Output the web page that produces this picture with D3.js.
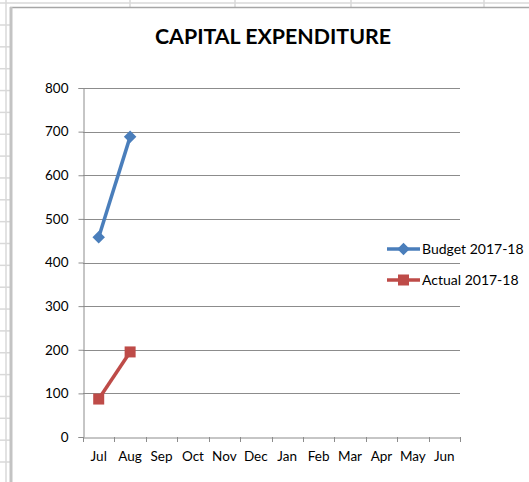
<!DOCTYPE html>
<html>
<head>
<meta charset="utf-8">
<script src="https://cdn.jsdelivr.net/npm/d3@7"></script>
<style>
  body { margin: 0; background: #fff; }
  svg { display: block; font-family: Lato, "Open Sans", sans-serif; }
</style>
</head>
<body>
<svg width="529" height="482"></svg>
<script>
// данные графика
const months = ["Jul", "Aug", "Sep", "Oct", "Nov", "Dec", "Jan", "Feb", "Mar", "Apr", "May", "Jun"];
const budget = [458, 688];
const actual = [87, 195];
const yTicks = [0, 100, 200, 300, 400, 500, 600, 700, 800];
const seriesNames = ["Budget 2017-18", "Actual 2017-18"];

const svg = d3.select("svg");
const W = 529, H = 482;

// фон таблицы Excel
const sheet = svg.append("g").attr("stroke", "#d9d9d9").attr("stroke-width", 1.5);
sheet.append("line").attr("x1", 0).attr("x2", W).attr("y1", 3).attr("y2", 3);
sheet.append("line").attr("x1", 6).attr("x2", 6).attr("y1", 0).attr("y2", H);
d3.range(25, H, 21.85).forEach(y => {
    sheet.append("line").attr("x1", 0).attr("x2", 10).attr("y1", y).attr("y2", y);
});
[130, 235, 351, 484].forEach(x => {
    sheet.append("line").attr("x1", x).attr("x2", x).attr("y1", 0).attr("y2", 7);
});

// область диаграммы
svg.append("rect")
    .attr("x", 11).attr("y", 7).attr("width", W).attr("height", H)
    .attr("fill", "#fff");
svg.append("line").attr("x1", 10).attr("x2", W).attr("y1", 7.5).attr("y2", 7.5)
    .attr("stroke", "#a6a6a6").attr("stroke-width", 1.5);
svg.append("line").attr("x1", 11).attr("x2", 11).attr("y1", 7).attr("y2", H)
    .attr("stroke", "#c3c3c3").attr("stroke-width", 3);

// заголовок
svg.append("text")
    .attr("x", 273).attr("y", 44)
    .attr("text-anchor", "middle")
    .attr("font-size", 21).attr("font-weight", "bold")
    .attr("textLength", 236).attr("lengthAdjust", "spacingAndGlyphs")
    .attr("fill", "#000")
    .text("CAPITAL EXPENDITURE");

const area = { left: 83, right: 460, top: 88, bottom: 437 };

const scX = d3.scaleBand().domain(months).range([area.left, area.right]);
const scY = d3.scaleLinear().domain([0, 800]).range([area.bottom, area.top]);

// сетка
svg.append("g")
    .selectAll("line")
    .data(yTicks.filter(d => d > 0))
    .enter().append("line")
    .attr("x1", area.left).attr("x2", area.right)
    .attr("y1", d => Math.round(scY(d)) + 0.5).attr("y2", d => Math.round(scY(d)) + 0.5)
    .attr("stroke", "#8c8c8c");

// оси
const axisY = svg.append("g")
    .attr("transform", `translate(${area.left + 0.5},0)`)
    .call(d3.axisLeft(scY).tickValues(yTicks).tickSize(5).tickPadding(10));
const axisX = svg.append("g")
    .attr("transform", `translate(0,${area.bottom + 0.5})`)
    .call(d3.axisBottom(scX).tickSize(0).tickPadding(14));

[axisY, axisX].forEach(g => {
    g.select(".domain").attr("stroke", "#8c8c8c");
    g.selectAll("line").attr("stroke", "#8c8c8c");
    g.selectAll("text").attr("font-size", 13.5).attr("fill", "#000")
        .attr("font-family", "Lato, sans-serif");
});

// деления оси X по границам категорий
svg.append("g")
    .selectAll("line")
    .data(months.concat(["end"]))
    .enter().append("line")
    .attr("x1", (d, i) => Math.round(area.left + i * scX.step()) + 0.5)
    .attr("x2", (d, i) => Math.round(area.left + i * scX.step()) + 0.5)
    .attr("y1", area.bottom).attr("y2", area.bottom + 5)
    .attr("stroke", "#8c8c8c");

const colors = ["#4a7ebb", "#be4b48"];
const allSeries = [budget, actual];
const cx = (d, i) => scX(months[i]) + scX.bandwidth() / 2;

const line = d3.line().x((d, i) => cx(d, i)).y(d => scY(d));

allSeries.forEach((vals, s) => {
    svg.append("path")
        .datum(vals)
        .attr("d", line)
        .attr("fill", "none")
        .attr("stroke", colors[s])
        .attr("stroke-width", 3.5);
});

// маркеры
function drawMarker(g, s, x, y) {
    if (s === 0) {
        g.append("path")
            .attr("d", d3.symbol(d3.symbolDiamond2, 100)())
            .attr("transform", `translate(${x},${y})`)
            .attr("fill", colors[s]);
    } else {
        g.append("rect")
            .attr("x", x - 5.5).attr("y", y - 5.5)
            .attr("width", 11).attr("height", 11)
            .attr("fill", colors[s]);
    }
}

allSeries.forEach((vals, s) => {
    const g = svg.append("g");
    vals.forEach((v, i) => drawMarker(g, s, cx(v, i), scY(v)));
});

// легенда
seriesNames.forEach((name, s) => {
    const y = 249 + s * 31;
    const g = svg.append("g");
    g.append("line")
        .attr("x1", 387).attr("x2", 420).attr("y1", y).attr("y2", y)
        .attr("stroke", colors[s]).attr("stroke-width", 3.5);
    drawMarker(g, s, 403.5, y);
    g.append("text")
        .attr("x", 422).attr("y", y + 5)
        .attr("font-size", 14).attr("fill", "#000")
        .text(name);
});
</script>
</body>
</html>
